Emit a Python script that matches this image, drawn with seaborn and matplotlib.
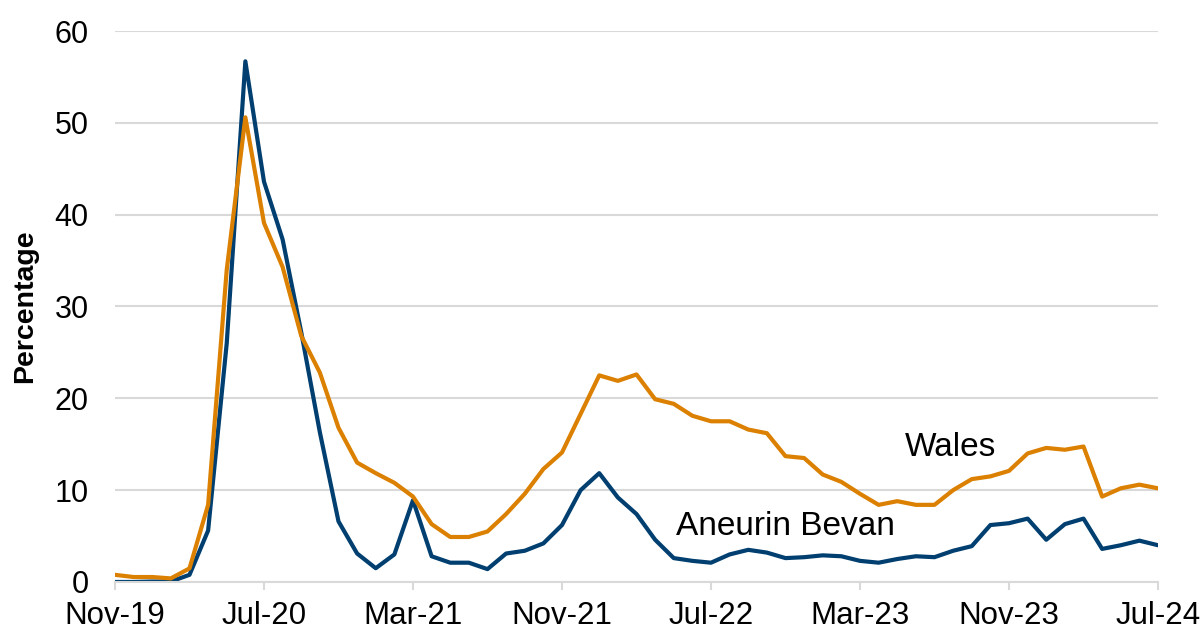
import numpy as np
import pandas as pd
import matplotlib
matplotlib.use("Agg")
import matplotlib.pyplot as plt
import seaborn as sns

months = pd.date_range("2019-11-01", "2024-07-01", freq="MS").strftime("%b-%y").tolist()

wales = [0.78, 0.54, 0.54, 0.39, 1.48, 8.4, 34.0, 50.6, 39.1, 34.3, 26.8, 22.8, 16.8, 13.0,
         11.85, 10.8, 9.3, 6.3, 4.9, 4.9, 5.5, 7.4, 9.6, 12.3, 14.1, 18.3, 22.5, 21.9, 22.6,
         19.9, 19.4, 18.1, 17.5, 17.5, 16.6, 16.2, 13.7, 13.5, 11.7, 10.9, 9.6, 8.4, 8.8,
         8.4, 8.4, 10.0, 11.2, 11.5, 12.1, 14.0, 14.6, 14.4, 14.75, 9.3, 10.2, 10.6, 10.2]
aneurin = [0.0, 0.0, 0.05, 0.05, 0.78, 5.6, 26.0, 56.7, 43.6, 37.3, 27.2, 16.3, 6.6, 3.1,
           1.5, 3.0, 8.9, 2.8, 2.1, 2.1, 1.4, 3.1, 3.4, 4.2, 6.2, 10.0, 11.85, 9.2, 7.4,
           4.6, 2.6, 2.3, 2.1, 3.0, 3.5, 3.2, 2.6, 2.7, 2.9, 2.8, 2.3, 2.1, 2.5, 2.8, 2.7,
           3.4, 3.9, 6.2, 6.4, 6.9, 4.6, 6.3, 6.9, 3.6, 4.0, 4.5, 4.0]

tick_idx = list(range(0, len(months), 8))
tick_labels = [months[i] for i in tick_idx]
y_ticks = [0, 10, 20, 30, 40, 50, 60]

series_names = ["Aneurin Bevan", "Wales"]
colors = {"Aneurin Bevan": "#003F6F", "Wales": "#DB8000"}

df = pd.DataFrame({
    "idx": list(range(len(months))) * 2,
    "value": aneurin + wales,
    "series": ["Aneurin Bevan"] * len(months) + ["Wales"] * len(months),
})

sns.set_theme(style="white")
plt.rcParams["font.family"] = ["Liberation Sans", "DejaVu Sans"]

fig = plt.figure(figsize=(12.04, 6.33), dpi=100)
ax = fig.add_axes([0.0955, 0.0806, 0.8663, 0.8704])

sns.lineplot(data=df, x="idx", y="value", hue="series", hue_order=series_names,
             palette=colors, linewidth=3.0, legend=False, ax=ax)

ax.set_xlim(0, len(months) - 1)
ax.set_ylim(0, 60)
ax.set_yticks(y_ticks)
ax.set_yticklabels([str(v) for v in y_ticks], fontsize=22)
ax.set_xticks(tick_idx)
ax.set_xticklabels(tick_labels, fontsize=22.5)
ax.grid(axis="y", color="#D9D9D9", linewidth=1.5)
ax.grid(axis="x", visible=False)
ax.set_axisbelow(True)
for s in ["left", "right", "top"]:
    ax.spines[s].set_visible(False)
ax.spines["bottom"].set_color("#D9D9D9")
ax.spines["bottom"].set_linewidth(1.5)
ax.tick_params(axis="x", which="both", bottom=True, length=6, width=1.5, color="#D9D9D9",
               pad=8, labelcolor="black")
ax.tick_params(axis="y", length=0, pad=19, labelcolor="black")
ax.set_xlabel("")
ax.set_ylabel("Percentage", fontsize=20.5, fontweight="bold", color="black", labelpad=12)

ax.text(42.4, 14.6, "Wales", fontsize=24, color="black", ha="left", va="center")
ax.text(30.1, 6.0, "Aneurin Bevan", fontsize=24, color="black", ha="left", va="center")

fig.savefig("out.png", dpi=100)
